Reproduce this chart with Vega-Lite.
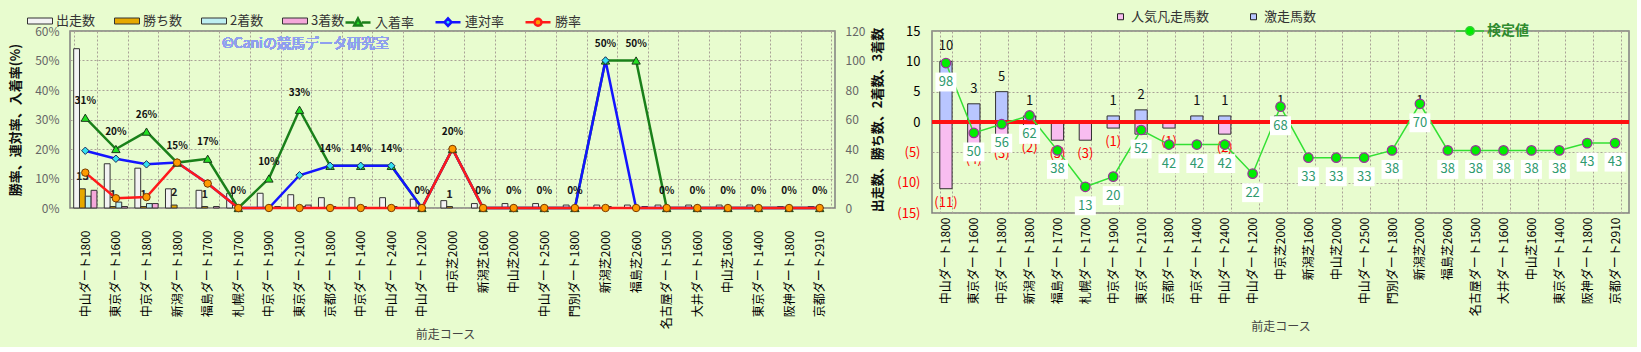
{
  "$schema": "https://vega.github.io/schema/vega-lite/v6.json",
  "background": "#e8fccf",
  "padding": {"left": 8, "top": 7, "right": 5, "bottom": 5},
  "bounds": "flush",
  "spacing": 97,
  "resolve": {"scale": {"color": "independent", "fill": "independent", "stroke": "independent", "shape": "independent"}},
  "config": {
    "font": "Noto Sans CJK JP",
    "view": {"fill": "#fcf0dc", "stroke": "#7f7f7f", "strokeWidth": 1.5},
    "axis": {"labelFont": "Noto Sans CJK JP", "titleFont": "Noto Sans CJK JP", "gridColor": "#a9a196", "gridDash": [2, 2], "gridWidth": 1, "domain": false, "ticks": false, "labelOverlap": false},
    "legend": {"labelFont": "Noto Sans CJK JP", "padding": 0}
  },
  "datasets": {
    "left": [
      {"c": "中山ダート1800", "出走数": 108, "勝ち数": 13, "2着数": 8, "3着数": 12, "勝率": 0.120, "連対率": 0.194, "入着率": 0.306},
      {"c": "東京ダート1600", "出走数": 30, "勝ち数": 1, "2着数": 4, "3着数": 1, "勝率": 0.033, "連対率": 0.167, "入着率": 0.200},
      {"c": "中京ダート1800", "出走数": 27, "勝ち数": 1, "2着数": 3, "3着数": 3, "勝率": 0.037, "連対率": 0.148, "入着率": 0.259},
      {"c": "新潟ダート1800", "出走数": 13, "勝ち数": 2, "2着数": 0, "3着数": 0, "勝率": 0.154, "連対率": 0.154, "入着率": 0.154},
      {"c": "福島ダート1700", "出走数": 12, "勝ち数": 1, "2着数": 0, "3着数": 1, "勝率": 0.083, "連対率": 0.083, "入着率": 0.167},
      {"c": "札幌ダート1700", "出走数": 10, "勝ち数": 0, "2着数": 0, "3着数": 0, "勝率": 0, "連対率": 0, "入着率": 0},
      {"c": "中京ダート1900", "出走数": 10, "勝ち数": 0, "2着数": 0, "3着数": 1, "勝率": 0, "連対率": 0, "入着率": 0.100},
      {"c": "東京ダート2100", "出走数": 9, "勝ち数": 0, "2着数": 1, "3着数": 2, "勝率": 0, "連対率": 0.111, "入着率": 0.333},
      {"c": "京都ダート1800", "出走数": 7, "勝ち数": 0, "2着数": 1, "3着数": 0, "勝率": 0, "連対率": 0.143, "入着率": 0.143},
      {"c": "中京ダート1400", "出走数": 7, "勝ち数": 0, "2着数": 1, "3着数": 0, "勝率": 0, "連対率": 0.143, "入着率": 0.143},
      {"c": "中山ダート2400", "出走数": 7, "勝ち数": 0, "2着数": 1, "3着数": 0, "勝率": 0, "連対率": 0.143, "入着率": 0.143},
      {"c": "中山ダート1200", "出走数": 6, "勝ち数": 0, "2着数": 0, "3着数": 0, "勝率": 0, "連対率": 0, "入着率": 0},
      {"c": "中京芝2000", "出走数": 5, "勝ち数": 1, "2着数": 0, "3着数": 0, "勝率": 0.2, "連対率": 0.2, "入着率": 0.2},
      {"c": "新潟芝1600", "出走数": 3, "勝ち数": 0, "2着数": 0, "3着数": 0, "勝率": 0, "連対率": 0, "入着率": 0},
      {"c": "中山芝2000", "出走数": 3, "勝ち数": 0, "2着数": 0, "3着数": 0, "勝率": 0, "連対率": 0, "入着率": 0},
      {"c": "中山ダート2500", "出走数": 3, "勝ち数": 0, "2着数": 0, "3着数": 0, "勝率": 0, "連対率": 0, "入着率": 0},
      {"c": "門別ダート1800", "出走数": 2, "勝ち数": 0, "2着数": 0, "3着数": 0, "勝率": 0, "連対率": 0, "入着率": 0},
      {"c": "新潟芝2000", "出走数": 2, "勝ち数": 0, "2着数": 1, "3着数": 0, "勝率": 0, "連対率": 0.5, "入着率": 0.5},
      {"c": "福島芝2600", "出走数": 2, "勝ち数": 0, "2着数": 0, "3着数": 1, "勝率": 0, "連対率": 0, "入着率": 0.5},
      {"c": "名古屋ダート1500", "出走数": 2, "勝ち数": 0, "2着数": 0, "3着数": 0, "勝率": 0, "連対率": 0, "入着率": 0},
      {"c": "大井ダート1600", "出走数": 2, "勝ち数": 0, "2着数": 0, "3着数": 0, "勝率": 0, "連対率": 0, "入着率": 0},
      {"c": "中山芝1600", "出走数": 2, "勝ち数": 0, "2着数": 0, "3着数": 0, "勝率": 0, "連対率": 0, "入着率": 0},
      {"c": "東京ダート1400", "出走数": 2, "勝ち数": 0, "2着数": 0, "3着数": 0, "勝率": 0, "連対率": 0, "入着率": 0},
      {"c": "阪神ダート1800", "出走数": 1, "勝ち数": 0, "2着数": 0, "3着数": 0, "勝率": 0, "連対率": 0, "入着率": 0},
      {"c": "京都ダート2910", "出走数": 1, "勝ち数": 0, "2着数": 0, "3着数": 0, "勝率": 0, "連対率": 0, "入着率": 0}
    ],
    "right": [
      {"c": "中山ダート1800", "激走馬数": 10, "人気凡走馬数": -11, "検定値": 98},
      {"c": "東京ダート1600", "激走馬数": 3, "人気凡走馬数": -4, "検定値": 50},
      {"c": "中京ダート1800", "激走馬数": 5, "人気凡走馬数": -3, "検定値": 56},
      {"c": "新潟ダート1800", "激走馬数": 1, "人気凡走馬数": -2, "検定値": 62},
      {"c": "福島ダート1700", "激走馬数": 0, "人気凡走馬数": -3, "検定値": 38},
      {"c": "札幌ダート1700", "激走馬数": 0, "人気凡走馬数": -3, "検定値": 13},
      {"c": "中京ダート1900", "激走馬数": 1, "人気凡走馬数": -1, "検定値": 20},
      {"c": "東京ダート2100", "激走馬数": 2, "人気凡走馬数": -2, "検定値": 52},
      {"c": "京都ダート1800", "激走馬数": 0, "人気凡走馬数": -1, "検定値": 42},
      {"c": "中京ダート1400", "激走馬数": 1, "人気凡走馬数": 0, "検定値": 42},
      {"c": "中山ダート2400", "激走馬数": 1, "人気凡走馬数": -2, "検定値": 42},
      {"c": "中山ダート1200", "激走馬数": 0, "人気凡走馬数": 0, "検定値": 22},
      {"c": "中京芝2000", "激走馬数": 1, "人気凡走馬数": 0, "検定値": 68},
      {"c": "新潟芝1600", "激走馬数": 0, "人気凡走馬数": 0, "検定値": 33},
      {"c": "中山芝2000", "激走馬数": 0, "人気凡走馬数": 0, "検定値": 33},
      {"c": "中山ダート2500", "激走馬数": 0, "人気凡走馬数": 0, "検定値": 33},
      {"c": "門別ダート1800", "激走馬数": 0, "人気凡走馬数": 0, "検定値": 38},
      {"c": "新潟芝2000", "激走馬数": 1, "人気凡走馬数": 0, "検定値": 70},
      {"c": "福島芝2600", "激走馬数": 0, "人気凡走馬数": 0, "検定値": 38},
      {"c": "名古屋ダート1500", "激走馬数": 0, "人気凡走馬数": 0, "検定値": 38},
      {"c": "大井ダート1600", "激走馬数": 0, "人気凡走馬数": 0, "検定値": 38},
      {"c": "中山芝1600", "激走馬数": 0, "人気凡走馬数": 0, "検定値": 38},
      {"c": "東京ダート1400", "激走馬数": 0, "人気凡走馬数": 0, "検定値": 38},
      {"c": "阪神ダート1800", "激走馬数": 0, "人気凡走馬数": 0, "検定値": 43},
      {"c": "京都ダート2910", "激走馬数": 0, "人気凡走馬数": 0, "検定値": 43}
    ]
  },
  "hconcat": [
    {
      "width": 765,
      "height": 177,
      "data": {"name": "left"},
      "resolve": {"scale": {"y": "independent"}},
      "layer": [
        {
          "transform": [
            {"fold": ["出走数", "勝ち数", "2着数", "3着数"], "as": ["metric", "n"]},
            {"filter": "datum.n > 0"}
          ],
          "layer": [
            {
              "mark": {"type": "bar", "stroke": "#333333", "strokeWidth": 1},
              "encoding": {
                "x": {
                  "field": "c", "type": "nominal",
                  "scale": {"domain": ["中山ダート1800", "東京ダート1600", "中京ダート1800", "新潟ダート1800", "福島ダート1700", "札幌ダート1700", "中京ダート1900", "東京ダート2100", "京都ダート1800", "中京ダート1400", "中山ダート2400", "中山ダート1200", "中京芝2000", "新潟芝1600", "中山芝2000", "中山ダート2500", "門別ダート1800", "新潟芝2000", "福島芝2600", "名古屋ダート1500", "大井ダート1600", "中山芝1600", "東京ダート1400", "阪神ダート1800", "京都ダート2910"], "paddingInner": 0.24, "paddingOuter": 0.12},
                  "axis": {"labelAngle": -90, "labelPadding": 22, "labelFontSize": 12, "labelColor": "#000000", "labelLimit": 200, "title": "前走コース", "titleX": 375, "titleFontSize": 12, "titleFontWeight": "normal", "titleColor": "#444444", "titlePadding": 1, "grid": true, "tickBand": "extent"}
                },
                "xOffset": {"field": "metric", "type": "nominal", "scale": {"domain": ["出走数", "勝ち数", "2着数", "3着数"], "paddingInner": 0}},
                "y": {
                  "field": "n", "type": "quantitative", "stack": null,
                  "scale": {"domain": [0, 120], "nice": false},
                  "axis": {"orient": "right", "values": [0, 20, 40, 60, 80, 100, 120], "tickCount": 7, "labelColor": "#666666", "labelFontSize": 12, "labelPadding": 10, "grid": false, "title": "出走数、勝ち数、2着数、3着数", "titleFontSize": 13, "titleFontWeight": "bold", "titleColor": "#111111", "titleAngle": 270, "titlePadding": 20}
                },
                "color": {
                  "field": "metric", "type": "nominal",
                  "scale": {"domain": ["出走数", "勝ち数", "2着数", "3着数"], "range": ["#f3f3f3", "#e6a800", "#bdeff2", "#f5a8da"]},
                  "legend": {"orient": "none", "legendX": -43, "legendY": -23, "direction": "horizontal", "title": null, "symbolType": "M-1,-0.24H1V0.24H-1Z", "symbolSize": 625, "symbolStrokeColor": "#333333", "symbolStrokeWidth": 1, "labelFontSize": 13, "labelColor": "#333333", "labelOffset": 3, "columnPadding": 16}
                }
              }
            },
            {
              "transform": [{"filter": "datum.metric == '勝ち数'"}],
              "mark": {"type": "text", "dy": -12, "fontSize": 11, "fontWeight": "bold", "color": "#222222"},
              "encoding": {
                "x": {"field": "c", "type": "nominal"},
                "xOffset": {"field": "metric", "type": "nominal"},
                "y": {"field": "n", "type": "quantitative", "stack": null},
                "text": {"field": "n", "type": "quantitative"}
              }
            }
          ]
        },
        {
          "layer": [
            {
              "mark": {"type": "line", "color": "#1a801a", "strokeWidth": 2.5},
              "encoding": {
                "x": {"field": "c", "type": "nominal"},
                "y": {
                  "field": "入着率", "type": "quantitative",
                  "scale": {"domain": [0, 0.6], "nice": false},
                  "axis": {"orient": "left", "values": [0, 0.1, 0.2, 0.3, 0.4, 0.5, 0.6], "tickCount": 7, "format": ".0%", "labelColor": "#666666", "labelFontSize": 12, "labelPadding": 11, "grid": true, "title": "勝率、連対率、入着率(%)", "titleFontSize": 13, "titleFontWeight": "bold", "titleColor": "#111111", "titlePadding": 12}
                }
              }
            },
            {
              "mark": {"type": "line", "color": "#1414ff", "strokeWidth": 2.5},
              "encoding": {"x": {"field": "c", "type": "nominal"}, "y": {"field": "連対率", "type": "quantitative"}}
            },
            {
              "mark": {"type": "line", "color": "#ff1a1a", "strokeWidth": 2.5},
              "encoding": {"x": {"field": "c", "type": "nominal"}, "y": {"field": "勝率", "type": "quantitative"}}
            },
            {
              "mark": {"type": "point", "shape": "triangle-up", "filled": true, "color": "#22e022", "stroke": "#1a3a1a", "strokeWidth": 1, "size": 70, "opacity": 1},
              "encoding": {"x": {"field": "c", "type": "nominal"}, "y": {"field": "入着率", "type": "quantitative"}}
            },
            {
              "mark": {"type": "point", "shape": "diamond", "filled": true, "color": "#33e0f0", "stroke": "#1a2a5a", "strokeWidth": 1, "size": 55, "opacity": 1},
              "encoding": {"x": {"field": "c", "type": "nominal"}, "y": {"field": "連対率", "type": "quantitative"}}
            },
            {
              "mark": {"type": "point", "shape": "circle", "filled": true, "color": "#ff9a00", "stroke": "#7a3a00", "strokeWidth": 1, "size": 55, "opacity": 1},
              "encoding": {"x": {"field": "c", "type": "nominal"}, "y": {"field": "勝率", "type": "quantitative"}}
            },
            {
              "mark": {"type": "text", "dy": -17, "fontSize": 10, "fontWeight": "bold", "color": "#111111"},
              "encoding": {
                "x": {"field": "c", "type": "nominal"},
                "y": {"field": "入着率", "type": "quantitative"},
                "text": {"field": "入着率", "type": "quantitative", "format": ".0%"}
              }
            },
            {
              "mark": {"type": "text", "fontSize": 14, "color": "#8f9ff0", "dx": 6},
              "encoding": {
                "x": {"datum": "東京ダート2100", "type": "nominal"},
                "y": {"datum": 0.557, "type": "quantitative"},
                "text": {"value": "©Caniの競馬データ研究室"}
              }
            },
            {
              "transform": [
                {"fold": ["入着率", "連対率", "勝率"], "as": ["s", "v"]},
                {"filter": "false"}
              ],
              "mark": {"type": "point", "filled": true, "opacity": 1},
              "encoding": {
                "shape": {"field": "s", "type": "nominal", "scale": {"domain": ["入着率", "連対率", "勝率"], "range": ["M-1,0H-0.3M0.3,0H1M0,-0.32L0.3,0.24H-0.3Z", "M-1,0H-0.28M0.28,0H1M0,-0.3L0.28,0L0,0.3L-0.28,0Z", "M-1,0H-0.28M0.28,0H1M-0.28,0A0.28,0.28 0 1,0 0.28,0A0.28,0.28 0 1,0 -0.28,0Z"]},
                  "legend": {"orient": "none", "legendX": 274, "legendY": -23, "direction": "horizontal", "title": null, "symbolSize": 625, "symbolStrokeWidth": 2.5, "symbolOpacity": 1, "labelFontSize": 13, "labelColor": "#333333", "labelOffset": 3, "columnPadding": 15}},
                "fill": {"field": "s", "type": "nominal", "scale": {"domain": ["入着率", "連対率", "勝率"], "range": ["#22e022", "#33e0f0", "#ff9a00"]},
                  "legend": {"orient": "none", "legendX": 274, "legendY": -23, "direction": "horizontal", "title": null, "symbolSize": 625, "symbolStrokeWidth": 2.5, "symbolOpacity": 1, "labelFontSize": 13, "labelColor": "#333333", "labelOffset": 3, "columnPadding": 15}},
                "stroke": {"field": "s", "type": "nominal", "scale": {"domain": ["入着率", "連対率", "勝率"], "range": ["#1a801a", "#1414ff", "#ff1a1a"]},
                  "legend": {"orient": "none", "legendX": 274, "legendY": -23, "direction": "horizontal", "title": null, "symbolSize": 625, "symbolStrokeWidth": 2.5, "symbolOpacity": 1, "labelFontSize": 13, "labelColor": "#333333", "labelOffset": 3, "columnPadding": 15}}
              }
            }
          ]
        }
      ]
    },
    {
      "width": 697,
      "height": 182,
      "data": {"name": "right"},
      "resolve": {"scale": {"y": "independent"}},
      "layer": [
        {
          "layer": [
            {
              "transform": [
                {"fold": ["人気凡走馬数", "激走馬数"], "as": ["type", "n"]},
                {"filter": "datum.n != 0"}
              ],
              "mark": {"type": "bar", "stroke": "#303030", "strokeWidth": 1},
              "encoding": {
                "x": {
                  "field": "c", "type": "nominal",
                  "scale": {"domain": ["中山ダート1800", "東京ダート1600", "中京ダート1800", "新潟ダート1800", "福島ダート1700", "札幌ダート1700", "中京ダート1900", "東京ダート2100", "京都ダート1800", "中京ダート1400", "中山ダート2400", "中山ダート1200", "中京芝2000", "新潟芝1600", "中山芝2000", "中山ダート2500", "門別ダート1800", "新潟芝2000", "福島芝2600", "名古屋ダート1500", "大井ダート1600", "中山芝1600", "東京ダート1400", "阪神ダート1800", "京都ダート2910"], "paddingInner": 0.56, "paddingOuter": 0.28},
                  "axis": {"labelAngle": -90, "labelPadding": 4, "labelFontSize": 12, "labelColor": "#000000", "labelLimit": 200, "title": "前走コース", "titleFontSize": 12, "titleFontWeight": "normal", "titleColor": "#444444", "titlePadding": 6, "grid": true, "tickBand": "extent"}
                },
                "y": {
                  "field": "n", "type": "quantitative", "stack": null,
                  "scale": {"domain": [-15, 15], "nice": false},
                  "axis": {"values": [-15, -10, -5, 0, 5, 10, 15], "tickCount": 7, "format": "(d", "labelFontSize": 13, "labelColor": {"condition": {"test": "datum.value < 0", "value": "#ff0000"}, "value": "#000000"}, "labelPadding": 12, "title": null, "grid": true}
                },
                "color": {
                  "field": "type", "type": "nominal",
                  "scale": {"domain": ["人気凡走馬数", "激走馬数"], "range": ["#f8bdf0", "#b9c6ff"]},
                  "legend": {"orient": "none", "legendX": 182, "legendY": -21, "direction": "horizontal", "title": null, "symbolType": "square", "symbolSize": 36, "symbolStrokeColor": "#222222", "symbolStrokeWidth": 1, "labelFontSize": 13, "labelColor": "#333333", "labelOffset": 4, "columnPadding": 37}
                }
              }
            },
            {
              "transform": [{"filter": "datum['激走馬数'] > 0"}],
              "mark": {"type": "text", "dy": -15, "fontSize": 13, "color": "#111111"},
              "encoding": {
                "x": {"field": "c", "type": "nominal"},
                "y": {"field": "激走馬数", "type": "quantitative"},
                "text": {"field": "激走馬数", "type": "quantitative"}
              }
            },
            {
              "transform": [{"filter": "datum['人気凡走馬数'] < 0"}],
              "mark": {"type": "text", "dy": 14, "fontSize": 13, "color": "#ff0000"},
              "encoding": {
                "x": {"field": "c", "type": "nominal"},
                "y": {"field": "人気凡走馬数", "type": "quantitative"},
                "text": {"field": "人気凡走馬数", "type": "quantitative", "format": "(d"}
              }
            },
            {
              "mark": {"type": "rule", "color": "#ff1010", "strokeWidth": 3},
              "encoding": {"y": {"datum": 0, "type": "quantitative"}}
            }
          ]
        },
        {
          "layer": [
            {
              "mark": {"type": "line", "color": "#33e033", "strokeWidth": 1.5},
              "encoding": {
                "x": {"field": "c", "type": "nominal"},
                "y": {"field": "検定値", "type": "quantitative", "scale": {"domain": [-5, 120], "nice": false}, "axis": null}
              }
            },
            {
              "mark": {"type": "point", "shape": "M-1,-0.9H1V0.9H-1Z", "filled": true, "color": "#ffffff", "size": 441, "yOffset": 19, "opacity": 1},
              "encoding": {"x": {"field": "c", "type": "nominal"}, "y": {"field": "検定値", "type": "quantitative"}}
            },
            {
              "mark": {"type": "text", "dy": 19, "fontSize": 13, "color": "#2e9a6e"},
              "encoding": {
                "x": {"field": "c", "type": "nominal"},
                "y": {"field": "検定値", "type": "quantitative"},
                "text": {"field": "検定値", "type": "quantitative"}
              }
            },
            {
              "mark": {"type": "point", "shape": "circle", "filled": true, "color": "#00ee00", "stroke": "#993399", "strokeWidth": 1.2, "size": 90, "opacity": 1},
              "encoding": {"x": {"field": "c", "type": "nominal"}, "y": {"field": "検定値", "type": "quantitative"}}
            },
            {
              "transform": [
                {"fold": ["検定値"], "as": ["s", "v"]},
                {"filter": "false"}
              ],
              "mark": {"type": "point", "filled": true, "opacity": 1},
              "encoding": {
                "shape": {"field": "s", "type": "nominal", "scale": {"domain": ["検定値"], "range": ["M-1,0H-0.3M0.3,0H1M-0.3,0A0.3,0.3 0 1,0 0.3,0A0.3,0.3 0 1,0 -0.3,0Z"]},
                  "legend": {"orient": "none", "legendX": 523, "legendY": -15, "title": null, "symbolSize": 784, "symbolStrokeWidth": 1.5, "symbolOpacity": 1, "labelFontSize": 14, "labelFontWeight": "bold", "labelColor": "#2e8b2e", "labelOffset": 2}},
                "fill": {"field": "s", "type": "nominal", "scale": {"domain": ["検定値"], "range": ["#00ee00"]},
                  "legend": {"orient": "none", "legendX": 523, "legendY": -15, "title": null, "symbolSize": 784, "symbolStrokeWidth": 1.5, "symbolOpacity": 1, "labelFontSize": 14, "labelFontWeight": "bold", "labelColor": "#2e8b2e", "labelOffset": 2}},
                "stroke": {"field": "s", "type": "nominal", "scale": {"domain": ["検定値"], "range": ["#33cc33"]},
                  "legend": {"orient": "none", "legendX": 523, "legendY": -15, "title": null, "symbolSize": 784, "symbolStrokeWidth": 1.5, "symbolOpacity": 1, "labelFontSize": 14, "labelFontWeight": "bold", "labelColor": "#2e8b2e", "labelOffset": 2}}
              }
            }
          ]
        }
      ]
    }
  ]
}
